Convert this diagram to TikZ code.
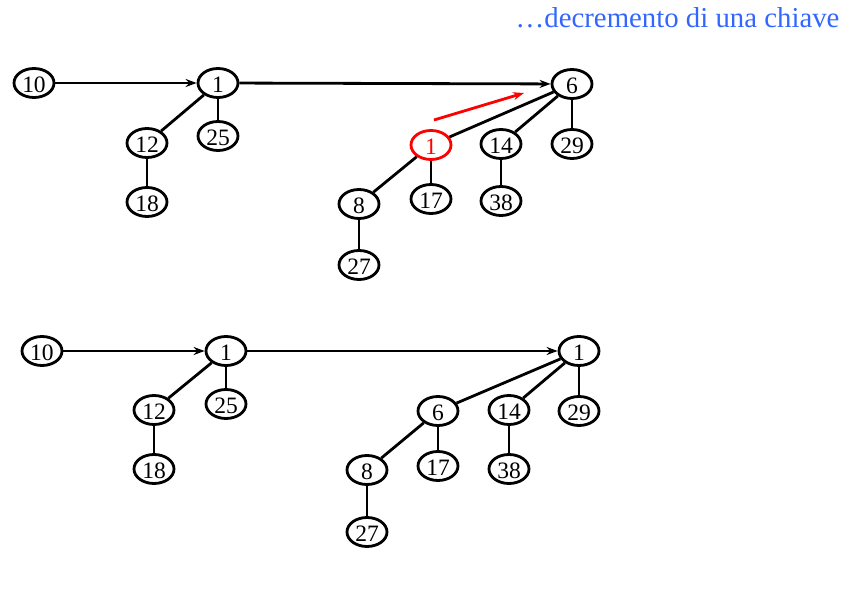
\documentclass[tikz,border=0pt]{standalone}
\usepackage{fontspec}
\setmainfont{Liberation Serif}
\usetikzlibrary{arrows.meta,shapes.geometric}

\definecolor{titleblue}{RGB}{51,102,255}

\tikzset{
  key/.style={ellipse,draw,line width=2.8pt,minimum width=40pt,minimum height=29pt,
    inner sep=0pt,text height=19pt,text depth=0pt,font=\fontsize{23.5}{24}\selectfont},
  hot/.style={key,draw=red,text=red},
  link/.style={line width=2.8pt},
  root/.style={link,-{Stealth[length=11pt,width=8pt]}}
}

\begin{document}
\begin{tikzpicture}[x=1pt,y=-1pt]
\useasboundingbox (0,0) rectangle (847,601);

\node [anchor=base east,text=titleblue,font=\fontsize{28.8}{29}\selectfont] (title) at (843,28) {…decremento di una chiave};

% prima della modifica
\node [key] (a10) at (34,83) {10};
\node [key] (a1) at (218,83) {1};
\node [key] (a12) at (147,143) {12};
\node [key] (a25) at (218,136) {25};
\node [key] (a18) at (147,202) {18};
\node [key] (a6) at (572,84) {6};
\node [hot] (ax) at (431,145) {1};
\node [key] (a14) at (501,144) {14};
\node [key] (a29) at (572,144) {29};
\node [key] (a8) at (359,204) {8};
\node [key] (a17) at (431,199) {17};
\node [key] (a38) at (501,201) {38};
\node [key] (a27) at (359,265) {27};

\draw [root] (a10) -- (a1);
\draw [root] (a1) -- (a6);
\draw [link] (a1) -- (a12);
\draw [link] (a1) -- (a25);
\draw [link] (a12) -- (a18);
\draw [link] (a6) -- (ax);
\draw [link] (a6) -- (a14);
\draw [link] (a6) -- (a29);
\draw [link] (ax) -- (a8);
\draw [link] (ax) -- (a17);
\draw [link] (a8) -- (a27);
\draw [link] (a14) -- (a38);

\coordinate (up0) at (434,120);
\coordinate (up1) at (524,93);
\draw [red,line width=2.8pt,-{Stealth[length=11pt,width=8pt]}] (up0) -- (up1);

% dopo la modifica
\node [key] (b10) at (42,351) {10};
\node [key] (b1) at (226,351) {1};
\node [key] (b12) at (154,410) {12};
\node [key] (b25) at (226,404) {25};
\node [key] (b18) at (154,469) {18};
\node [key] (bx) at (579,351) {1};
\node [key] (b6) at (438,411) {6};
\node [key] (b14) at (509,410) {14};
\node [key] (b29) at (579,411) {29};
\node [key] (b8) at (367,470) {8};
\node [key] (b17) at (438,466) {17};
\node [key] (b38) at (509,469) {38};
\node [key] (b27) at (367,532) {27};

\draw [root] (b10) -- (b1);
\draw [root] (b1) -- (bx);
\draw [link] (b1) -- (b12);
\draw [link] (b1) -- (b25);
\draw [link] (b12) -- (b18);
\draw [link] (bx) -- (b6);
\draw [link] (bx) -- (b14);
\draw [link] (bx) -- (b29);
\draw [link] (b6) -- (b8);
\draw [link] (b6) -- (b17);
\draw [link] (b8) -- (b27);
\draw [link] (b14) -- (b38);

\end{tikzpicture}
\end{document}
